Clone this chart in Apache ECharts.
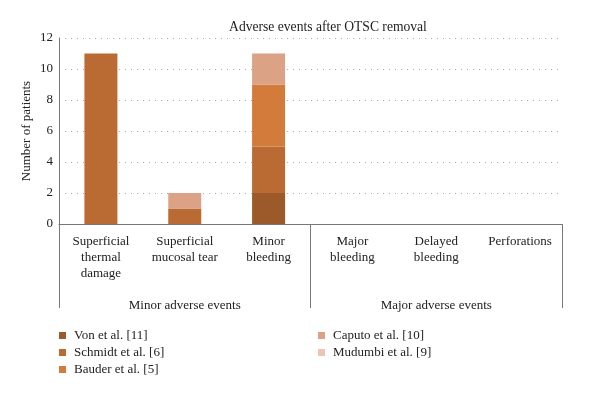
<!DOCTYPE html>
<html><head><meta charset="utf-8">
<script src="https://cdn.jsdelivr.net/npm/echarts@6/dist/echarts.min.js"></script>
<style>html,body{margin:0;padding:0;background:#fff}#c{width:600px;height:395px}</style>
</head><body><div id="c"></div>
<script>
const categories = ['Superficial\nthermal\ndamage', 'Superficial\nmucosal tear', 'Minor\nbleeding', 'Major\nbleeding', 'Delayed\nbleeding', 'Perforations'];
const groups = ['Minor adverse events', 'Major adverse events'];
const von = [0, 0, 2, 0, 0, 0];
const schmidt = [11, 1, 3, 0, 0, 0];
const bauder = [0, 0, 4, 0, 0, 0];
const caputo = [0, 1, 2, 0, 0, 0];
const mudumbi = [0, 0, 0, 0, 0, 0];
const yTicks = {min: 0, max: 12, interval: 2};

const font = '"Liberation Serif", "DejaVu Serif", serif';
const names = ['Von et al. [11]', 'Schmidt et al. [6]', 'Bauder et al. [5]', 'Caputo et al. [10]', 'Mudumbi et al. [9]'];
const colors = ['#9c5a2b', '#b96b33', '#d27b3b', '#dca286', '#ebc6b6'];
const datas = [von, schmidt, bauder, caputo, mudumbi];

const legendText = {fontFamily: font, fontSize: 13, color: '#222', padding: [0, 0, 0, 3]};
const chart = echarts.init(document.getElementById('c'));
chart.setOption({
  animation: false,
  textStyle: {fontFamily: font},
  title: {text: 'Adverse events after OTSC removal', left: 323, textAlign: 'center', top: 15,
    textStyle: {fontFamily: font, fontSize: 13.6, fontWeight: 'normal', color: '#222'}},
  grid: {left: 59, right: 38, top: 38, bottom: 171},
  legend: [
    {data: names.slice(0, 3), orient: 'vertical', left: 54, top: 324, itemWidth: 7, itemHeight: 7, itemGap: 4,
     icon: 'rect', textStyle: legendText},
    {data: names.slice(3), orient: 'vertical', left: 313, top: 324, itemWidth: 7, itemHeight: 7, itemGap: 4,
     icon: 'rect', textStyle: legendText}
  ],
  xAxis: [
    {type: 'category', data: categories, position: 'bottom',
     axisLine: {lineStyle: {color: '#777'}}, axisTick: {show: false},
     axisLabel: {interval: 0, color: '#222', fontSize: 13, lineHeight: 16, margin: 10, fontFamily: font}},
    {type: 'category', data: groups, position: 'bottom', offset: 0,
     axisLine: {show: false},
     axisTick: {show: true, length: 84, lineStyle: {color: '#777'}},
     axisLabel: {color: '#222', fontSize: 13, margin: 75, fontFamily: font}}
  ],
  yAxis: {type: 'value', min: yTicks.min, max: yTicks.max, interval: yTicks.interval,
    name: 'Number of patients', nameLocation: 'middle', nameGap: 26, nameMoveOverlap: false,
    nameTextStyle: {fontFamily: font, fontSize: 13, color: '#222'},
    axisLine: {show: true, lineStyle: {color: '#777'}}, axisTick: {show: false},
    axisLabel: {color: '#222', fontSize: 13, margin: 6, fontFamily: font},
    splitLine: {lineStyle: {type: [1, 5], color: '#aaa'}}},
  series: datas.map((d, i) => ({
    name: names[i], type: 'bar', stack: 'a', barWidth: 33, xAxisIndex: 0,
    data: d.map(v => v === 0 ? '-' : v), itemStyle: {color: colors[i]}
  }))
});
</script></body></html>
